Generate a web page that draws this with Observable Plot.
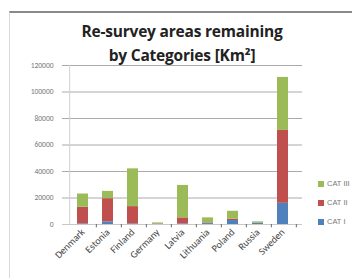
<!DOCTYPE html>
<html><head><meta charset="utf-8">
<script src="https://cdn.jsdelivr.net/npm/d3@7"></script>
<script src="https://cdn.jsdelivr.net/npm/@observablehq/plot@0.6"></script>
<style>
body{margin:0;background:#fff;font-family:"Liberation Sans",Arial,sans-serif;}
#wrap{position:relative;width:352px;height:278px;overflow:hidden;}
#frame{position:absolute;left:9px;top:11px;width:343px;height:267px;border-top:2px solid #8a8a8a;border-left:1px solid #d8d8d8;}
#title{position:absolute;left:42px;width:280px;top:19px;text-align:center;font-weight:bold;font-size:15.5px;line-height:24px;color:#222;font-family:"Open Sans","DejaVu Sans",sans-serif;letter-spacing:-0.2px}
#legend{position:absolute;left:318px;top:174px;font-size:7.5px;color:#777;line-height:19px;font-family:"Liberation Sans",Arial,sans-serif;}
.sw{display:inline-block;width:6px;height:6px;margin-right:3px;vertical-align:middle}
#chart{position:absolute;left:0;top:0}
</style></head><body>
<div id="wrap"><div id="frame"></div><div id="chart"></div>
<div id="title">Re-survey areas remaining<br>by Categories [Km²]</div>
<div id="legend"></div></div>
<script>
const countries = ["Denmark","Estonia","Finland","Germany","Latvia","Lithuania","Poland","Russia","Sweden"];
const cat1 = [500, 2000, 500, 200, 500, 700, 3000, 800, 16000];
const cat2 = [12500, 17500, 13000, 300, 4500, 500, 1000, 300, 55000];
const cat3 = [10000, 5500, 28500, 700, 24500, 3800, 6000, 900, 40000];
const seriesNames = ["CAT I","CAT II","CAT III"];
const colors = ["#4F81BD","#C0504D","#9BBB59"];
const yTicks = [0,20000,40000,60000,80000,100000,120000];

const data = [];
countries.forEach((c,i)=>{
  [cat1,cat2,cat3].forEach((s,k)=>data.push({country:c, cat:seriesNames[k], value:s[i]}));
});
const step = 240/countries.length;

const plot = Plot.plot({
  width:352, height:278,
  marginLeft:62, marginRight:50, marginTop:65, marginBottom:54,
  style:{fontFamily:"Calibri,'Liberation Sans',Arial,sans-serif", background:"transparent"},
  x:{domain:countries, padding:0.58, label:null, tickRotate:-45, tickSize:0, tickPadding:6},
  y:{domain:[0,120000], ticks:yTicks, label:null, grid:false, tickSize:0, tickPadding:9, tickFormat:d=>String(d)},
  color:{domain:seriesNames, range:colors},
  marks:[
    Plot.ruleY(yTicks.filter(d=>d>0), {stroke:"#aaa", strokeWidth:1}),
    Plot.barY(data, {x:"country", y:"value", fill:"cat", order:seriesNames}),
    Plot.ruleY([0], {stroke:"#c8c8c8"}),
    Plot.ruleX(countries, {x:d=>d, dx:step/2, y1:0, y2:-2500, stroke:"#666"}),
    Plot.ruleX([countries[0]], {x:d=>d, dx:-step/2, y1:0, y2:120000, stroke:"#d0d0d0"})
  ]
});
document.getElementById("chart").appendChild(plot);
d3.select(plot).selectAll("[aria-label='x-axis tick label'] text").attr("font-size",10).attr("fill","#444");
d3.select(plot).selectAll("[aria-label='y-axis tick label'] text").attr("font-size",7.5).attr("fill","#777");
const lg = document.getElementById("legend");
[2,1,0].forEach(k=>{
  const d=document.createElement("div");
  d.innerHTML=`<span class="sw" style="background:${colors[k]}"></span>${seriesNames[k]}`;
  lg.appendChild(d);
});
</script></body></html>
